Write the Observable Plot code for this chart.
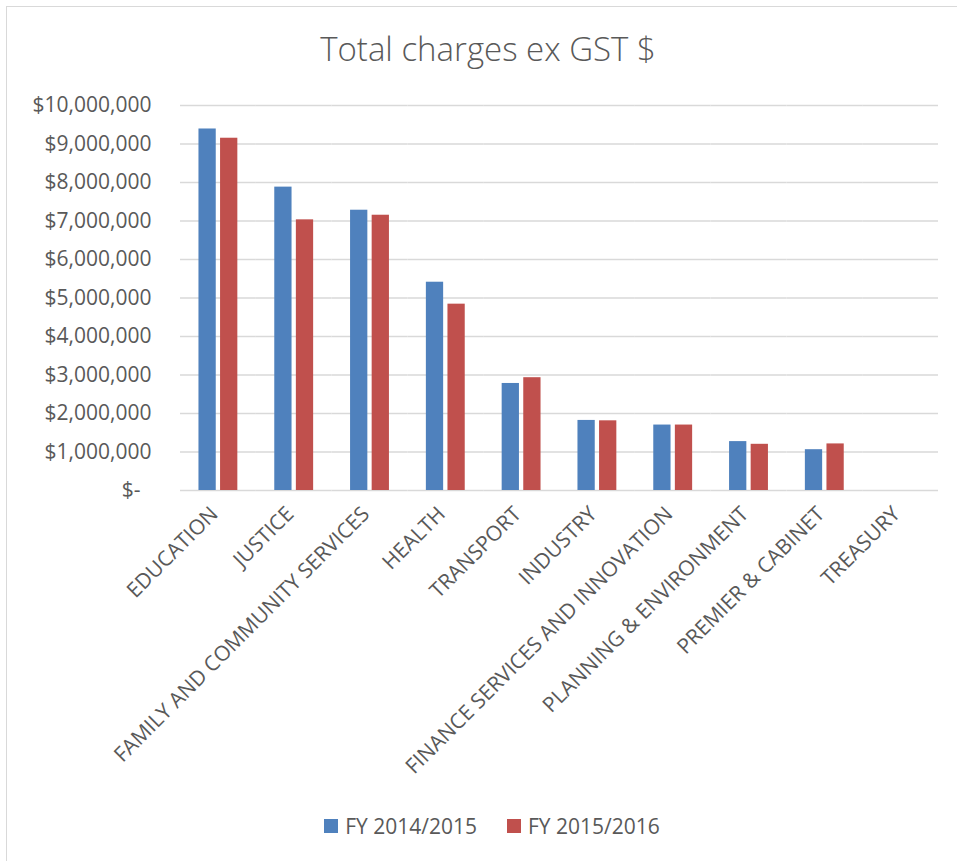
<!DOCTYPE html>
<html>
<head>
<meta charset="utf-8">
<script src="https://cdn.jsdelivr.net/npm/d3@7"></script>
<script src="https://cdn.jsdelivr.net/npm/@observablehq/plot@0.6"></script>
<style>
  html, body { margin: 0; padding: 0; background: #fff; }
  #wrap { position: relative; width: 957px; height: 861px; overflow: hidden; font-family: "Open Sans", sans-serif; color: #595959; }
  #border { position: absolute; left: 6px; top: 6px; width: 1000px; height: 1000px; border-top: 1.5px solid #d9d9d9; border-left: 1.5px solid #d9d9d9; }
  #title { position: absolute; left: 0; width: 976px; top: 27px; text-align: center; font-size: 33px; font-weight: 300; line-height: 44px; }
  #chart { position: absolute; left: 0; top: 0; }
  #legend { position: absolute; left: 0; width: 984px; top: 811px; display: flex; justify-content: center; gap: 30px; font-size: 21px; line-height: 30px; }
  #legend .item { display: flex; align-items: center; gap: 7px; }
  #legend .sw { width: 14px; height: 14px; display: inline-block; }
</style>
</head>
<body>
<div id="wrap">
  <div id="border"></div>
  <div id="chart"></div>
  <div id="title">Total charges ex GST $</div>
  <div id="legend"></div>
</div>
<script>
const categories = ["EDUCATION", "JUSTICE", "FAMILY AND COMMUNITY SERVICES", "HEALTH", "TRANSPORT", "INDUSTRY", "FINANCE SERVICES AND INNOVATION", "PLANNING & ENVIRONMENT", "PREMIER & CABINET", "TREASURY"];
const series = ["FY 2014/2015", "FY 2015/2016"];
const fy1415 = [9390000, 7880000, 7280000, 5410000, 2780000, 1820000, 1700000, 1270000, 1060000, 0];
const fy1516 = [9150000, 7030000, 7150000, 4840000, 2930000, 1810000, 1700000, 1200000, 1210000, 0];
const yTicks = [0, 1000000, 2000000, 3000000, 4000000, 5000000, 6000000, 7000000, 8000000, 9000000, 10000000];
const colors = ["#4f81bd", "#c0504d"];

const data = categories.flatMap((c, i) => [
  {category: c, series: series[0], value: fy1415[i]},
  {category: c, series: series[1], value: fy1516[i]}
]);

const fmt = d3.format(",");
const chart = Plot.plot({
  width: 957,
  height: 790,
  marginLeft: 180,
  marginRight: 19,
  marginTop: 105,
  marginBottom: 300,
  style: {fontFamily: "'Open Sans', sans-serif", fontSize: "21px", color: "#595959", background: "transparent"},
  fx: {domain: categories, padding: 0, round: false, label: null},
  x: {domain: series, paddingInner: 0.2, paddingOuter: 0.855, round: false, axis: null},
  y: {domain: [0, 10000000], label: null},
  color: {domain: series, range: colors},
  marks: [
    Plot.gridY(yTicks, {stroke: "#d9d9d9", strokeOpacity: 1, strokeWidth: 1.5}),
    Plot.axisY(yTicks, {tickSize: 0, tickPadding: 29, label: null, fontSize: 21,
      tickFormat: d => d === 0 ? "$-\u00a0\u00a0" : "$" + fmt(d)}),
    Plot.axisFx({anchor: "bottom", tickRotate: -45, tickSize: 0, tickPadding: 20, dx: -4, label: null, fontSize: 21}),
    Plot.barY(data, {fx: "category", x: "series", y: "value", fill: "series"})
  ]
});
document.getElementById("chart").appendChild(chart);

const legend = document.getElementById("legend");
series.forEach((s, i) => {
  const item = document.createElement("div");
  item.className = "item";
  const sw = document.createElement("span");
  sw.className = "sw";
  sw.style.background = colors[i];
  const t = document.createElement("span");
  t.textContent = s;
  item.appendChild(sw);
  item.appendChild(t);
  legend.appendChild(item);
});
</script>
</body>
</html>
